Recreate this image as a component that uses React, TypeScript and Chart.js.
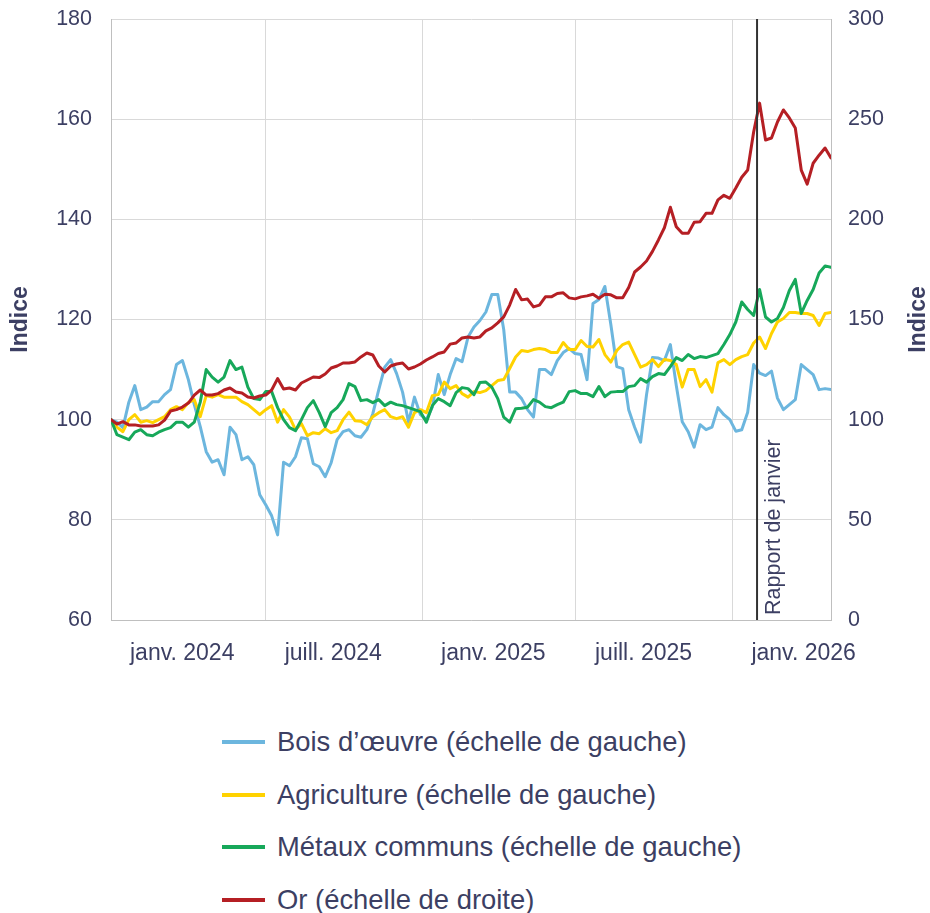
import React, { useEffect, useRef } from 'react';
import { Chart, registerables } from 'chart.js';

Chart.register(...registerables);

// ---------- DATA ----------
// Weekly observations, day offsets from 1 January 2024
const WEEK_COUNT = 122;
const weekDays: number[] = Array.from({ length: WEEK_COUNT }, (_, i) => i * 7);

const xTickDays = [0, 182, 366, 547, 731];
const xTickLabels = ['janv. 2024', 'juill. 2024', 'janv. 2025', 'juill. 2025', 'janv. 2026'];

const reportDay = 760;
const reportLabel = 'Rapport de janvier';
const axisTitle = 'Indice';

const seriesLabels = [
  'Bois d’œuvre (échelle de gauche)',
  'Agriculture (échelle de gauche)',
  'Métaux communs (échelle de gauche)',
  'Or (échelle de droite)',
];

const lumber = [
  100, 99.5, 98.4, 103.5, 106.8, 102, 102.5, 103.6, 103.6, 105,
  106, 111, 111.8, 108, 103, 98.6, 93.6, 91.5, 92, 89,
  98.5, 97, 92, 92.6, 91, 85, 83, 80.8, 77, 91.5,
  90.8, 92.6, 96.4, 96.2, 91.2, 90.6, 88.6, 91.4, 96, 97.6,
  98, 96.8, 96.5, 98, 101.2, 106, 110.5, 112, 109.2, 105.5,
  99.5, 104.5, 101, 100, 102.5, 109, 105, 109, 112.2, 111.6,
  116.5, 118.5, 119.8, 121.5, 125, 125, 118, 105.5, 105.5, 104.2,
  102, 100.5, 110, 110, 109, 111.8, 113.4, 114.2, 113.2, 113,
  108, 123.2, 124, 126.6, 119, 110.6, 110.2, 102, 98.5, 95.5,
  105, 112.4, 112.3, 111.8, 115, 106.8, 99.6, 97.6, 94.5, 99,
  98, 98.5, 102.4, 101, 100, 97.7, 98, 101.5, 111, 109.3,
  108.8, 109.7, 104.3, 102, 103, 104, 111, 110, 109, 106,
  106.2, 106,
];

const agriculture = [
  100, 98.5, 97.6, 100, 101, 99.5, 99.8, 99.4, 100, 100.6,
  102, 102.6, 102, 103.4, 104, 100.6, 104.8, 104.5, 105, 104.5,
  104.5, 104.5, 103.6, 103, 102, 101, 102, 102.8, 99.5, 102,
  100.5, 98, 99.2, 96.8, 97.4, 97.2, 98.2, 97.4, 97.8, 100,
  101.5, 99.8, 99.7, 99, 100.6, 101.4, 102, 100.6, 100.2, 100.6,
  98.5, 101.4, 102, 101.4, 104.8, 105, 107.5, 106.2, 106.8, 105.2,
  104.5, 105.6, 105.4, 105.8, 106.8, 107.8, 108, 110.2, 112.5, 113.8,
  113.6, 114, 114.2, 114, 113.4, 113.4, 115.4, 114, 114, 115.8,
  114.6, 114.5, 116, 113, 111.5, 113.8, 115, 115.5, 113, 110.5,
  111, 112, 110.6, 112, 111.8, 111, 106.5, 110, 110, 106.6,
  108, 105.5, 111.4, 112, 111, 112, 112.6, 113, 115.3, 116.5,
  114.2, 117.2, 119.5, 120.2, 121.4, 121.4, 121.2, 121.2, 120.8, 118.8,
  121.2, 121.4,
];

const baseMetals = [
  100, 97, 96.5, 96, 97.5, 98, 97, 96.8, 97.5, 98,
  98.4, 99.5, 99.5, 98.5, 99.5, 103.5, 110, 108.5, 107.5, 108.5,
  111.8, 110, 110.5, 106.5, 104.2, 104, 105.6, 105.6, 102.4, 100,
  98.4, 97.8, 100, 102.4, 103.8, 101.4, 98.6, 101.4, 102.4, 104,
  107.2, 106.6, 103.8, 104, 103.4, 104, 102.8, 103.5, 103, 102.8,
  102.4, 102, 101.6, 99.5, 102.8, 104.2, 103.6, 102.8, 105.4, 106.4,
  106.2, 105, 107.4, 107.5, 106.5, 104.2, 100.5, 99.5, 102.2, 102.3,
  102.5, 104, 103.5, 102.6, 102.4, 103, 103.5, 105.6, 105.8, 105.2,
  105.2, 104.6, 106.6, 104.6, 105.5, 105.6, 105.6, 106.6, 106.8, 108.2,
  107.5, 108.6, 109.2, 109, 110.6, 112.4, 111.8, 113, 112.2, 112.6,
  112.4, 112.8, 113.2, 115, 117, 119.5, 123.5, 122, 120.8, 126,
  120.5, 119.5, 120.2, 122.4, 125.8, 128, 121.2, 123.8, 126, 129.3,
  130.7, 130.4,
];

const gold = [
  100, 97.8, 99, 97.4, 97.4, 96.8, 96.8, 96.8, 97.4, 99.8,
  104.3, 105, 106.3, 108.3, 112.3, 114.8, 112.3, 112.3, 113, 114.8,
  115.8, 113.8, 113.3, 111.3, 110.8, 111.8, 112.3, 114.8, 120.5, 115.3,
  115.8, 114.8, 118.3, 119.8, 121.3, 121, 122.8, 125.8, 126.8, 128.3,
  128.3, 128.8, 131.3, 133.3, 132.3, 126.8, 123.8, 126.8, 127.8, 128.3,
  125.3, 126.3, 127.8, 129.8, 131.3, 133, 133.8, 137.7, 138.3, 140.8,
  141.3, 140.8, 141.3, 144.3, 145.8, 148.3, 151.3, 157.2, 165, 159.8,
  160.2, 156.3, 157.2, 161.3, 161.3, 163, 163.3, 160.8, 160.3, 161.3,
  161.8, 162.6, 160.6, 162.6, 162.3, 160.8, 160.8, 166, 173.7, 176.2,
  179.2, 184, 189.7, 195.8, 206, 196.3, 193, 193, 198.5, 198.8,
  203, 203, 209.7, 212, 210.5, 215.6, 221, 224.6, 243.6, 258,
  239.6, 240.6, 248.6, 254.6, 250.6, 245.6, 224.6, 217.6, 228, 232,
  235.6, 230.6,
];

// ---------- STYLE ----------
const TEXT = '#3c3f63';
const FONT = "'Liberation Sans', Arial, Helvetica, sans-serif";
const GRID = '#d9d9d9';
const AXIS = '#bfbfbf';
const COLORS = ['#6cb6de', '#ffd200', '#17a85a', '#b51f24'];

const toPoints = (vals: number[]) => vals.map((v, i) => ({ x: weekDays[i], y: v }));

const overlayPlugin = {
  id: 'overlay',
  afterDatasetsDraw(chart: any) {
    const { ctx, chartArea, scales } = chart;
    const x = scales.x.getPixelForValue(reportDay);
    ctx.save();
    ctx.strokeStyle = '#333333';
    ctx.lineWidth = 2;
    ctx.beginPath();
    ctx.moveTo(x, chartArea.top);
    ctx.lineTo(x, chartArea.bottom);
    ctx.stroke();

    ctx.fillStyle = TEXT;
    ctx.font = `21.5px ${FONT}`;
    ctx.textAlign = 'left';
    ctx.textBaseline = 'middle';
    ctx.translate(x + 17, chartArea.bottom - 5);
    ctx.rotate(-Math.PI / 2);
    ctx.fillText(reportLabel, 0, 0);
    ctx.restore();

    const midY = (chartArea.top + chartArea.bottom) / 2;
    for (const cx of [21, 919]) {
      ctx.save();
      ctx.fillStyle = TEXT;
      ctx.font = `bold 23px ${FONT}`;
      ctx.textAlign = 'center';
      ctx.textBaseline = 'middle';
      ctx.translate(cx, midY);
      ctx.rotate(-Math.PI / 2);
      ctx.fillText(axisTitle, 0, 0);
      ctx.restore();
    }
  },
};

export default function App() {
  const ref = useRef<HTMLCanvasElement | null>(null);

  useEffect(() => {
    if (!ref.current) return;
    const tickFont = { size: 21.5, family: FONT };
    const chart = new Chart(ref.current, {
      type: 'line',
      data: {
        datasets: [
          { label: seriesLabels[0], data: toPoints(lumber), borderColor: COLORS[0], yAxisID: 'y', order: 3 },
          { label: seriesLabels[1], data: toPoints(agriculture), borderColor: COLORS[1], yAxisID: 'y', order: 2 },
          { label: seriesLabels[2], data: toPoints(baseMetals), borderColor: COLORS[2], yAxisID: 'y', order: 1 },
          { label: seriesLabels[3], data: toPoints(gold), borderColor: COLORS[3], yAxisID: 'y1', order: 0 },
        ] as any,
      },
      options: {
        animation: false,
        responsive: false,
        maintainAspectRatio: false,
        layout: { padding: { top: 19, left: 0, right: 0, bottom: 0 } },
        elements: {
          point: { radius: 0, hoverRadius: 0 },
          line: { borderWidth: 3, tension: 0, borderJoinStyle: 'round', borderCapStyle: 'round' },
        },
        plugins: { legend: { display: false }, tooltip: { enabled: false } },
        scales: {
          x: {
            type: 'linear',
            min: 0,
            max: weekDays[weekDays.length - 1],
            afterBuildTicks: (s: any) => {
              s.ticks = xTickDays.map((v) => ({ value: v }));
            },
            afterFit: (s: any) => {
              s.height = 80;
              s.paddingLeft = 0;
              s.paddingRight = 0;
            },
            ticks: {
              callback: (_v: any, i: number) => xTickLabels[i],
              align: 'start',
              labelOffset: 19,
              padding: 20,
              autoSkip: false,
              maxRotation: 0,
              color: TEXT,
              font: { size: 23, family: FONT },
            },
            grid: { color: GRID, drawTicks: false, lineWidth: 1 },
            border: { color: AXIS, width: 1 },
          },
          y: {
            position: 'left',
            min: 60,
            max: 180,
            afterFit: (s: any) => {
              s.width = 111;
              s.paddingTop = 0;
              s.paddingBottom = 0;
            },
            ticks: { stepSize: 20, padding: 19, color: TEXT, font: tickFont },
            grid: { color: GRID, drawTicks: false, lineWidth: 1 },
            border: { color: AXIS, width: 1 },
          },
          y1: {
            position: 'right',
            min: 0,
            max: 300,
            afterFit: (s: any) => {
              s.width = 99;
              s.paddingTop = 0;
              s.paddingBottom = 0;
            },
            ticks: { stepSize: 50, padding: 17, color: TEXT, font: tickFont },
            grid: { display: false, drawTicks: false },
            border: { color: AXIS, width: 1 },
          },
        },
      } as any,
      plugins: [overlayPlugin],
    });
    return () => chart.destroy();
  }, []);

  return (
    <div style={{ position: 'absolute', left: 0, top: 0, width: 930, height: 913, fontFamily: FONT, background: '#fff' }}>
      <canvas ref={ref} width={930} height={700} style={{ display: 'block', width: 930, height: 700 }} />
      {seriesLabels.map((label, i) => (
        <div
          key={label}
          style={{
            position: 'absolute',
            left: 222,
            top: 742 + i * 52.7 - 17,
            height: 34,
            display: 'flex',
            alignItems: 'center',
            whiteSpace: 'nowrap',
          }}
        >
          <span style={{ display: 'inline-block', width: 43, height: 4, background: COLORS[i], marginRight: 12 }} />
          <span style={{ fontSize: 27.4, color: TEXT, lineHeight: '34px' }}>{label}</span>
        </div>
      ))}
    </div>
  );
}
